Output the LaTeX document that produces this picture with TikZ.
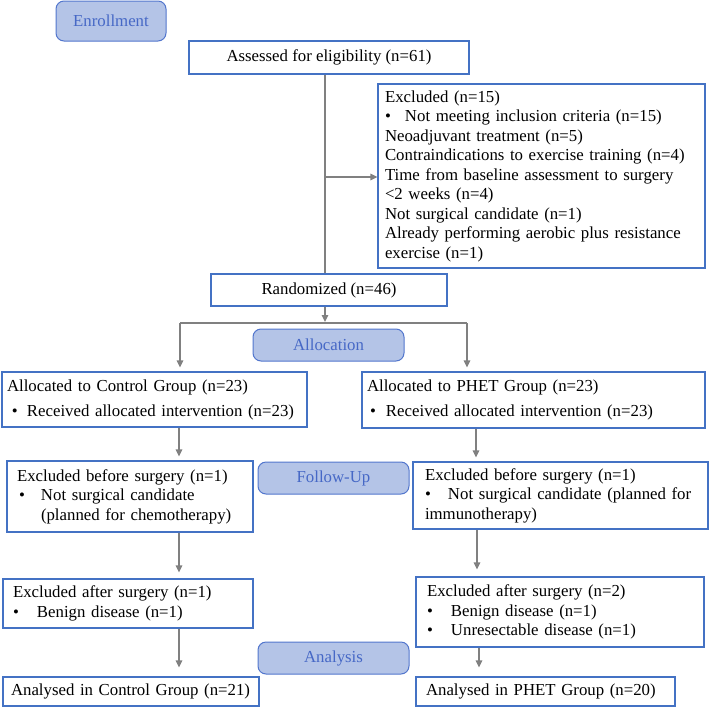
\documentclass[tikz,border=0pt]{standalone}
\usepackage{fontspec}
\setmainfont{Liberation Serif}
\usetikzlibrary{arrows.meta}
\definecolor{boxblue}{RGB}{68,114,196}
\definecolor{labfill}{RGB}{180,196,231}
\definecolor{labdraw}{RGB}{82,118,205}
\definecolor{labtext}{RGB}{70,104,198}
\definecolor{arrgray}{RGB}{128,128,128}
\newcommand{\bx}[2]{\makebox[#1pt][l]{#2}}
\begin{document}
\begin{tikzpicture}[x=1pt,y=-1pt,
  txt/.style={font=\fontsize{16.8}{19.5}\selectfont},
  box/.style={draw=boxblue, line width=1.1pt, rectangle, inner ysep=0pt, align=left, txt},
  lab/.style={draw=labdraw, fill=labfill, rounded corners=8pt, text=labtext, line width=1pt, txt, inner sep=0pt},
  line/.style={draw=arrgray, line width=1.3pt},
  arr/.style={line, -{Triangle[length=7pt,width=6.5pt]}},
]
\useasboundingbox (0,0) rectangle (709,707);

% stage labels
\node[lab, minimum width=110pt, minimum height=40pt] (enr) at (111,21) {Enrollment};
\node[lab, minimum width=151pt, minimum height=32pt] (alo) at (328.5,345) {Allocation};
\node[lab, minimum width=151pt, minimum height=32pt] (fup) at (333.5,478) {Follow-Up};
\node[lab, minimum width=151pt, minimum height=32pt] (ana) at (333.5,658) {Analysis};

% boxes
\node[box, align=center, inner xsep=0pt, minimum width=280pt, minimum height=33pt] (ass) at (329,57.5) {Assessed for eligibility (n=61)};

\node[box, inner xsep=7pt, text width=313pt, minimum width=327pt, minimum height=184pt] (excl) at (541.5,176) {%
\mbox{Excluded (n=15)}\\
\mbox{\bx{20}{\textbullet}Not meeting inclusion criteria (n=15)}\\
\mbox{Neoadjuvant treatment (n=5)}\\
\mbox{Contraindications to exercise training (n=4)}\\
\mbox{Time from baseline assessment to surgery}\\
\mbox{<2 weeks (n=4)}\\
\mbox{Not surgical candidate (n=1)}\\
\mbox{Already performing aerobic plus resistance}\\
\mbox{exercise (n=1)}};

\node[box, align=center, inner xsep=0pt, minimum width=236pt, minimum height=32pt] (rand) at (329,290) {Randomized (n=46)};

\node[box, inner xsep=5pt, text width=295pt, minimum width=305pt, minimum height=55pt] (ctrlA) at (154.5,399.5) {%
\mbox{Allocated to Control Group (n=23)}\\[5.5pt]
\mbox{\hspace*{5pt}\bx{15}{\textbullet}Received allocated intervention (n=23)}};

\node[box, inner xsep=5pt, text width=333pt, minimum width=343pt, minimum height=56pt] (phetA) at (533.5,400) {%
\mbox{Allocated to PHET Group (n=23)}\\[5.5pt]
\mbox{\hspace*{3pt}\bx{16}{\textbullet}Received allocated intervention (n=23)}};

\node[box, inner xsep=10pt, text width=226pt, minimum width=246pt, minimum height=71pt] (ctrlB) at (130,496.5) {%
\mbox{Excluded before surgery (n=1)}\\
\mbox{\hspace*{2pt}\bx{22}{\textbullet}Not surgical candidate}\\
\mbox{\hspace*{24pt}(planned for chemotherapy)}};

\node[box, inner xsep=12pt, text width=271pt, minimum width=295pt, minimum height=67pt] (phetB) at (560.5,495.5) {%
\mbox{Excluded before surgery (n=1)}\\
\mbox{\bx{23}{\textbullet}Not surgical candidate (planned for}\\
\mbox{immunotherapy)}};

\node[box, inner xsep=10pt, text width=230pt, minimum width=250pt, minimum height=49pt] (ctrlC) at (128,603.5) {%
\mbox{Excluded after surgery (n=1)}\\
\mbox{\bx{24}{\textbullet}Benign disease (n=1)}};

\node[box, inner xsep=11pt, text width=266pt, minimum width=288pt, minimum height=70pt] (phetC) at (560,612) {%
\mbox{Excluded after surgery (n=2)}\\
\mbox{\bx{24}{\textbullet}Benign disease (n=1)}\\
\mbox{\bx{24}{\textbullet}Unresectable disease (n=1)}};

\node[box, inner xsep=8pt, text width=240pt, minimum width=256pt, minimum height=29pt] (ctrlD) at (131,691.5) {\mbox{Analysed in Control Group (n=21)}};

\node[box, inner xsep=10pt, text width=239pt, minimum width=259pt, minimum height=29pt] (phetD) at (545.5,691.5) {\mbox{Analysed in PHET Group (n=20)}};

% connectors
\coordinate (v) at (325,0);
\coordinate (j) at (325,177);
\coordinate (sp) at (325,323);
\coordinate (sl) at (180,323);
\coordinate (sr) at (467,323);
\coordinate (cl) at (179,0);
\coordinate (cr1) at (476,0);
\coordinate (cr2) at (477,0);
\coordinate (cr3) at (479,0);

\draw[line] (ass.south -| v) -- (rand.north -| v);
\draw[arr] (j) -- (excl.west |- j);
\draw[arr, shorten >=1pt] (rand.south -| sp) -- (sp);
\draw[line] (sl) -- (sr);
\draw[arr, shorten >=4pt] (sl) -- (sl |- ctrlA.north);
\draw[arr, shorten >=4pt] (sr) -- (sr |- phetA.north);
\draw[arr, shorten >=4pt] (ctrlA.south -| cl) -- (ctrlB.north -| cl);
\draw[arr, shorten >=4pt] (phetA.south -| cr1) -- (phetB.north -| cr1);
\draw[arr, shorten >=6pt] (ctrlB.south -| cl) -- (ctrlC.north -| cl);
\draw[arr, shorten >=7pt] (phetB.south -| cr2) -- (phetC.north -| cr2);
\draw[arr, shorten >=9pt] (ctrlC.south -| cl) -- (ctrlD.north -| cl);
\draw[arr, shorten >=9pt] (phetC.south -| cr3) -- (phetD.north -| cr3);
\end{tikzpicture}
\end{document}
